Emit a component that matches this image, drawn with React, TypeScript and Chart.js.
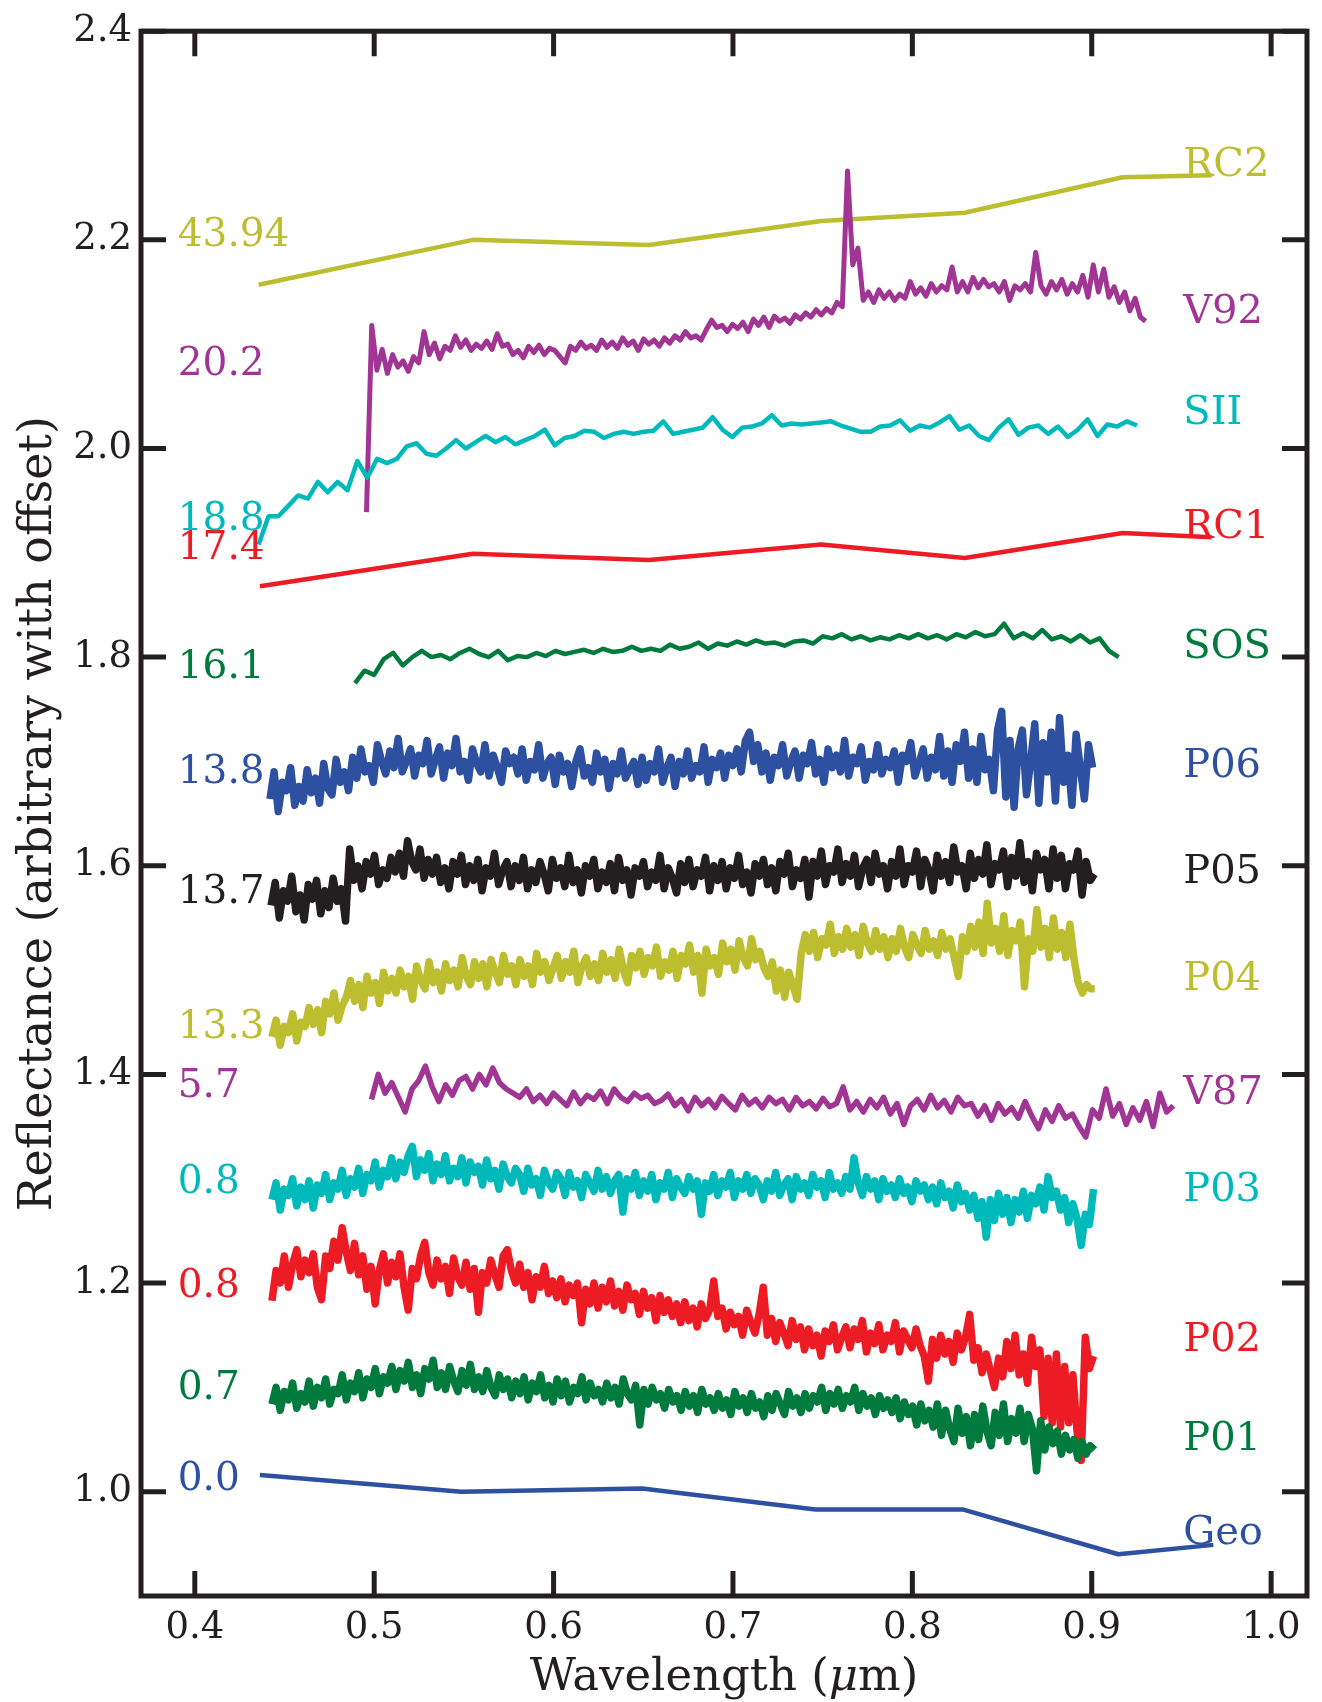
import React, { useEffect, useRef } from "react";
import { Chart, registerables } from "chart.js";

Chart.register(...registerables);

// ---------- axes ----------
const X_MIN = 0.37;
const X_MAX = 1.02;
const Y_MIN = 0.9;
const Y_MAX = 2.4;
const X_TICKS = [0.4, 0.5, 0.6, 0.7, 0.8, 0.9, 1.0];
const Y_TICKS = [1.0, 1.2, 1.4, 1.6, 1.8, 2.0, 2.2, 2.4];

// ---------- filter photometry (x = wavelength, y = reflectance) ----------
const RC2_X = [0.4356, 0.555, 0.6532, 0.7492, 0.8292, 0.9172, 0.9669];
const RC2_Y = [2.157, 2.2, 2.195, 2.218, 2.226, 2.26, 2.262];
const RC1_X = [0.4363, 0.555, 0.6532, 0.7492, 0.8292, 0.9172, 0.9669];
const RC1_Y = [1.868, 1.899, 1.893, 1.908, 1.895, 1.919, 1.915];
const GEO_X = [0.4363, 0.5485, 0.6494, 0.746, 0.828, 0.9148, 0.9678];
const GEO_Y = [1.016, 1.0, 1.003, 0.983, 0.983, 0.94, 0.949];

// ---------- spectra (wavelength range, evenly sampled reflectance) ----------
const V92_RANGE = [0.4957, 0.93];
const V92_Y = [
  1.939, 2.118, 2.075, 2.095, 2.072, 2.09, 2.078, 2.084, 2.074, 2.088,
  2.082, 2.112, 2.09, 2.101, 2.086, 2.098, 2.094, 2.108, 2.097, 2.104,
  2.094, 2.1, 2.096, 2.103, 2.095, 2.11, 2.098, 2.1, 2.09, 2.094,
  2.087, 2.098, 2.092, 2.099, 2.09, 2.096, 2.094, 2.088, 2.082, 2.098,
  2.094, 2.102, 2.096, 2.099, 2.094, 2.104, 2.097, 2.102, 2.096, 2.106,
  2.099, 2.103, 2.094, 2.105, 2.1, 2.104, 2.098, 2.106, 2.101, 2.108,
  2.104, 2.112, 2.106, 2.108, 2.104, 2.114, 2.123, 2.116, 2.118, 2.112,
  2.119, 2.115, 2.121, 2.112, 2.124, 2.118, 2.126, 2.116, 2.127, 2.122,
  2.125, 2.12, 2.128, 2.124, 2.13, 2.126, 2.133, 2.128, 2.134, 2.13,
  2.14, 2.136, 2.266, 2.176, 2.192, 2.142, 2.15, 2.14, 2.152, 2.144,
  2.15, 2.142, 2.148, 2.144, 2.16, 2.148, 2.154, 2.146, 2.158, 2.15,
  2.156, 2.152, 2.174, 2.15, 2.16, 2.15, 2.164, 2.154, 2.162, 2.155,
  2.158, 2.15, 2.16, 2.142, 2.156, 2.152, 2.158, 2.15, 2.188, 2.156,
  2.148, 2.16, 2.152, 2.162, 2.148, 2.158, 2.15, 2.166, 2.145, 2.176,
  2.15, 2.172, 2.145, 2.155, 2.14, 2.15, 2.132, 2.144, 2.126, 2.122,
];

const SII_RANGE = [0.4356, 0.9252];
const SII_Y = [
  1.908, 1.935, 1.935, 1.945, 1.955, 1.952, 1.968, 1.958, 1.968, 1.96,
  1.988, 1.972, 1.99, 1.986, 1.99, 2.002, 2.005, 1.995, 1.993, 2.0,
  2.008, 2.0, 2.006, 2.012, 2.006, 2.011, 2.004, 2.008, 2.012, 2.018,
  2.003, 2.01, 2.012, 2.017, 2.016, 2.01, 2.014, 2.016, 2.014, 2.016,
  2.017, 2.026, 2.014, 2.016, 2.018, 2.02, 2.03, 2.018, 2.011, 2.02,
  2.021, 2.024, 2.032, 2.022, 2.024, 2.023, 2.024, 2.025, 2.026, 2.022,
  2.019, 2.016, 2.016, 2.021, 2.022, 2.027, 2.017, 2.022, 2.02, 2.025,
  2.031, 2.018, 2.022, 2.012, 2.008, 2.02, 2.028, 2.013, 2.02, 2.022,
  2.014, 2.021, 2.011, 2.018, 2.028, 2.012, 2.023, 2.021, 2.026, 2.022,
];

const SOS_RANGE = [0.4893, 0.915];
const SOS_Y = [
  1.775, 1.787, 1.783, 1.798, 1.804, 1.792, 1.8, 1.806, 1.8, 1.802,
  1.798, 1.804, 1.808, 1.803, 1.8, 1.806, 1.797, 1.801, 1.8, 1.804,
  1.801, 1.806, 1.803, 1.805, 1.807, 1.804, 1.808, 1.805, 1.806, 1.81,
  1.806, 1.808, 1.806, 1.812, 1.808, 1.81, 1.814, 1.808, 1.813, 1.811,
  1.815, 1.812, 1.816, 1.813, 1.814, 1.811, 1.815, 1.816, 1.813, 1.82,
  1.818, 1.822, 1.817, 1.82, 1.816, 1.819, 1.817, 1.821, 1.818, 1.822,
  1.818, 1.821, 1.817, 1.822, 1.819, 1.824, 1.82, 1.822, 1.832, 1.818,
  1.823, 1.818, 1.826, 1.817, 1.82, 1.815, 1.821, 1.814, 1.818, 1.806,
  1.8,
];

const P06_RANGE = [0.4419, 0.9005];
const P06_Y = [
  1.664, 1.69, 1.652, 1.68, 1.672, 1.694, 1.658, 1.676, 1.662, 1.692,
  1.67, 1.684, 1.66, 1.698, 1.674, 1.668, 1.702, 1.68, 1.69, 1.672,
  1.704, 1.684, 1.712, 1.69, 1.696, 1.68, 1.716, 1.7, 1.688, 1.71,
  1.694, 1.722, 1.69, 1.7, 1.712, 1.686, 1.706, 1.698, 1.72, 1.688,
  1.702, 1.714, 1.684, 1.708, 1.696, 1.722, 1.69, 1.7, 1.682, 1.712,
  1.698, 1.69, 1.716, 1.686, 1.706, 1.694, 1.68, 1.71, 1.698, 1.704,
  1.688, 1.712, 1.682, 1.7, 1.692, 1.716, 1.684, 1.698, 1.704, 1.678,
  1.706, 1.69, 1.698, 1.676, 1.7, 1.712, 1.686, 1.694, 1.68, 1.708,
  1.69, 1.702, 1.674, 1.698, 1.688, 1.71, 1.684, 1.692, 1.7, 1.678,
  1.704, 1.682, 1.698, 1.69, 1.712, 1.68, 1.694, 1.704, 1.676, 1.7,
  1.688, 1.71, 1.684, 1.696, 1.69, 1.714, 1.68, 1.702, 1.694, 1.708,
  1.684, 1.706, 1.696, 1.712, 1.69, 1.72, 1.728, 1.7, 1.716, 1.69,
  1.708, 1.682, 1.704, 1.696, 1.716, 1.686, 1.7, 1.71, 1.684, 1.706,
  1.698, 1.718, 1.688, 1.702, 1.68, 1.712, 1.694, 1.706, 1.69, 1.72,
  1.686, 1.704, 1.698, 1.714, 1.682, 1.7, 1.692, 1.716, 1.688, 1.702,
  1.694, 1.71, 1.68, 1.706, 1.7, 1.718, 1.686, 1.698, 1.712, 1.684,
  1.704, 1.692, 1.724, 1.686, 1.71, 1.68, 1.716, 1.7, 1.728, 1.684,
  1.712, 1.68, 1.724, 1.692, 1.702, 1.672, 1.73, 1.748, 1.666, 1.72,
  1.656, 1.712, 1.73, 1.668, 1.7, 1.736, 1.66, 1.718, 1.69, 1.728,
  1.662, 1.742, 1.68, 1.706, 1.658, 1.726, 1.694, 1.664, 1.716, 1.694,
];

const P05_RANGE = [0.4425, 0.9015];
const P05_Y = [
  1.562, 1.584, 1.55, 1.576, 1.566, 1.59, 1.556, 1.572, 1.548, 1.582,
  1.568, 1.586, 1.554, 1.576, 1.56, 1.588, 1.566, 1.578, 1.547, 1.616,
  1.586, 1.6, 1.578, 1.604, 1.592, 1.61, 1.582, 1.596, 1.588, 1.608,
  1.594, 1.612, 1.59, 1.624, 1.604, 1.596, 1.616, 1.588, 1.606, 1.592,
  1.608, 1.584, 1.598, 1.578, 1.604, 1.592, 1.61, 1.582, 1.6, 1.586,
  1.606, 1.576, 1.598, 1.59, 1.612, 1.582, 1.596, 1.604, 1.58, 1.6,
  1.586, 1.608, 1.578, 1.596, 1.584, 1.604, 1.592, 1.576, 1.606, 1.588,
  1.598, 1.58, 1.61, 1.584, 1.596, 1.574, 1.6, 1.59, 1.606, 1.578,
  1.594, 1.584, 1.602, 1.576, 1.608, 1.586, 1.596, 1.572, 1.598, 1.59,
  1.604, 1.58, 1.594, 1.586, 1.61, 1.578, 1.598, 1.588, 1.574, 1.602,
  1.584, 1.606, 1.58, 1.596, 1.59, 1.608, 1.576, 1.6, 1.586, 1.604,
  1.578, 1.598, 1.588, 1.61, 1.582, 1.594, 1.574, 1.602, 1.59, 1.606,
  1.582, 1.598, 1.576, 1.604, 1.592, 1.612, 1.58, 1.596, 1.588, 1.606,
  1.57, 1.604, 1.59, 1.614, 1.582, 1.6, 1.594, 1.616, 1.584, 1.602,
  1.59, 1.61, 1.58, 1.598, 1.606, 1.584, 1.612, 1.592, 1.6, 1.578,
  1.604, 1.59, 1.616, 1.582, 1.6, 1.594, 1.614, 1.58, 1.606, 1.596,
  1.576, 1.61, 1.59, 1.604, 1.584, 1.618, 1.594, 1.6, 1.578, 1.612,
  1.588, 1.606, 1.592, 1.62, 1.582, 1.602, 1.596, 1.614, 1.58, 1.608,
  1.59, 1.622, 1.584, 1.604, 1.576, 1.612, 1.596, 1.606, 1.578, 1.616,
  1.588, 1.61, 1.578, 1.602, 1.596, 1.614, 1.572, 1.604, 1.586, 1.592,
];

const P04_RANGE = [0.443, 0.9017];
const P04_Y = [
  1.436, 1.452, 1.428, 1.446, 1.44, 1.458, 1.432, 1.45, 1.446, 1.464,
  1.448, 1.462, 1.44, 1.47, 1.458, 1.478, 1.452, 1.466, 1.474, 1.49,
  1.47, 1.486, 1.464, 1.494, 1.478, 1.488, 1.468, 1.498, 1.48, 1.492,
  1.478, 1.5, 1.484, 1.494, 1.472, 1.504, 1.49, 1.482, 1.508, 1.488,
  1.498, 1.48, 1.506, 1.49, 1.5, 1.484, 1.512, 1.494, 1.486, 1.508,
  1.492, 1.506, 1.484, 1.51, 1.498, 1.488, 1.514, 1.496, 1.504, 1.486,
  1.51, 1.494, 1.504, 1.486, 1.516, 1.498, 1.508, 1.49, 1.502, 1.514,
  1.492, 1.508, 1.498, 1.518, 1.488, 1.504, 1.512, 1.494, 1.506, 1.49,
  1.516, 1.498, 1.51, 1.492, 1.52, 1.5, 1.488, 1.514, 1.502, 1.518,
  1.496, 1.512, 1.504, 1.522, 1.494, 1.508, 1.5, 1.518, 1.492, 1.514,
  1.506, 1.524, 1.498, 1.514, 1.478, 1.52, 1.504, 1.512, 1.496, 1.526,
  1.508, 1.52, 1.5, 1.528, 1.512, 1.504, 1.53, 1.51, 1.518, 1.502,
  1.494, 1.508, 1.48, 1.5, 1.474, 1.498, 1.486, 1.472, 1.516, 1.534,
  1.518, 1.536, 1.512, 1.53, 1.524, 1.544, 1.516, 1.532, 1.52, 1.54,
  1.522, 1.534, 1.514, 1.542, 1.526, 1.518, 1.538, 1.52, 1.532, 1.512,
  1.53, 1.518, 1.54, 1.522, 1.512, 1.534, 1.524, 1.516, 1.538, 1.52,
  1.528, 1.514, 1.536, 1.52, 1.53, 1.512, 1.494, 1.532, 1.518, 1.542,
  1.522, 1.546, 1.516, 1.564, 1.526, 1.54, 1.518, 1.552, 1.514, 1.538,
  1.528, 1.546, 1.484, 1.53, 1.518, 1.558, 1.522, 1.54, 1.512, 1.55,
  1.52, 1.536, 1.512, 1.544, 1.51, 1.488, 1.478, 1.486, 1.482, 1.482,
];

const V87_RANGE = [0.4985, 0.9455];
const V87_Y = [
  1.376, 1.4, 1.382, 1.392, 1.378, 1.364, 1.386, 1.394, 1.408, 1.388,
  1.374, 1.39, 1.38, 1.394, 1.398, 1.386, 1.4, 1.39, 1.406, 1.392,
  1.386, 1.382, 1.378, 1.386, 1.374, 1.38, 1.372, 1.382, 1.376, 1.37,
  1.383, 1.372, 1.38, 1.376, 1.384, 1.372, 1.386, 1.378, 1.374, 1.382,
  1.377, 1.38, 1.372, 1.375, 1.381, 1.37, 1.376, 1.365, 1.378, 1.37,
  1.376, 1.368, 1.379, 1.372, 1.366, 1.38, 1.371, 1.376, 1.368, 1.378,
  1.372, 1.376, 1.366, 1.378, 1.37, 1.374, 1.367, 1.377, 1.369, 1.372,
  1.388, 1.366, 1.374, 1.364, 1.376, 1.368, 1.378, 1.362, 1.372, 1.352,
  1.37, 1.376, 1.366, 1.38, 1.368, 1.375, 1.364, 1.378, 1.37, 1.372,
  1.36, 1.37, 1.356, 1.372, 1.362, 1.368, 1.358, 1.374, 1.36, 1.348,
  1.366, 1.355, 1.37, 1.358, 1.362, 1.35, 1.34, 1.366, 1.358, 1.386,
  1.36, 1.372, 1.352, 1.368, 1.356, 1.374, 1.35, 1.382, 1.364, 1.37,
];

const P03_RANGE = [0.443, 0.901];
const P03_Y = [
  1.28, 1.296, 1.27, 1.29, 1.284, 1.3, 1.274, 1.292, 1.28, 1.298,
  1.272, 1.294, 1.286, 1.304, 1.28, 1.296, 1.29, 1.308, 1.284, 1.3,
  1.292, 1.31, 1.286, 1.304, 1.298, 1.316, 1.292, 1.308, 1.302, 1.32,
  1.3, 1.316, 1.306, 1.322, 1.331, 1.302, 1.318, 1.308, 1.324, 1.298,
  1.314, 1.304, 1.322, 1.298, 1.31, 1.302, 1.32, 1.296, 1.316, 1.306,
  1.312, 1.294, 1.318, 1.3, 1.308, 1.29, 1.314, 1.302, 1.296, 1.31,
  1.304, 1.288, 1.31, 1.294, 1.3, 1.284, 1.308, 1.296, 1.29, 1.306,
  1.3, 1.284, 1.306, 1.292, 1.298, 1.282, 1.304, 1.296, 1.288, 1.308,
  1.29, 1.302, 1.286, 1.298, 1.304, 1.268, 1.3, 1.29, 1.306, 1.284,
  1.298, 1.288, 1.304, 1.28, 1.296, 1.29, 1.306, 1.282, 1.3, 1.292,
  1.286, 1.302, 1.29, 1.298, 1.266, 1.296, 1.288, 1.304, 1.284, 1.298,
  1.292, 1.306, 1.282, 1.298, 1.29, 1.304, 1.286, 1.3, 1.294, 1.28,
  1.298, 1.288, 1.306, 1.284, 1.294, 1.3, 1.28, 1.302, 1.29, 1.296,
  1.284, 1.304, 1.292, 1.298, 1.282, 1.306, 1.29, 1.296, 1.286, 1.302,
  1.29, 1.32, 1.296, 1.284, 1.302, 1.29, 1.298, 1.28, 1.3, 1.288,
  1.294, 1.282, 1.3, 1.286, 1.292, 1.278, 1.298, 1.288, 1.294, 1.28,
  1.292, 1.276, 1.296, 1.282, 1.288, 1.272, 1.294, 1.278, 1.286, 1.27,
  1.284, 1.262, 1.278, 1.244, 1.28, 1.26, 1.286, 1.266, 1.282, 1.258,
  1.28, 1.268, 1.288, 1.262, 1.284, 1.276, 1.292, 1.27, 1.302, 1.282,
  1.288, 1.27, 1.282, 1.258, 1.276, 1.262, 1.236, 1.266, 1.256, 1.29,
];

const P02_RANGE = [0.443, 0.901];
const P02_Y = [
  1.183, 1.212, 1.2, 1.226, 1.196, 1.218, 1.232, 1.206, 1.222, 1.21,
  1.228, 1.196, 1.184, 1.226, 1.214, 1.24, 1.222, 1.253, 1.23, 1.212,
  1.238, 1.208, 1.226, 1.194, 1.216, 1.18, 1.212, 1.228, 1.2, 1.22,
  1.206, 1.228, 1.196, 1.174, 1.214, 1.204, 1.226, 1.239, 1.21, 1.198,
  1.222, 1.204, 1.216, 1.19, 1.224, 1.206, 1.198, 1.22, 1.194, 1.214,
  1.172, 1.21, 1.2, 1.222, 1.208, 1.196, 1.226, 1.232, 1.212, 1.2,
  1.218, 1.196, 1.21, 1.184, 1.206, 1.196, 1.216, 1.19, 1.202, 1.186,
  1.204, 1.182, 1.198, 1.188, 1.2, 1.162, 1.194, 1.18, 1.2, 1.176,
  1.196, 1.182, 1.202, 1.178, 1.192, 1.174, 1.198, 1.184, 1.19, 1.17,
  1.192, 1.176, 1.186, 1.164, 1.188, 1.172, 1.184, 1.168, 1.18, 1.162,
  1.182, 1.164, 1.176, 1.158, 1.18, 1.166, 1.174, 1.202, 1.168, 1.176,
  1.156, 1.172, 1.16, 1.168, 1.15, 1.174, 1.162, 1.152, 1.17, 1.196,
  1.15, 1.166, 1.144, 1.162, 1.152, 1.14, 1.164, 1.146, 1.158, 1.136,
  1.156, 1.14, 1.15, 1.13, 1.154, 1.144, 1.16, 1.136, 1.148, 1.158,
  1.138, 1.156, 1.146, 1.164, 1.134, 1.152, 1.142, 1.16, 1.136, 1.15,
  1.144, 1.162, 1.134, 1.154, 1.146, 1.138, 1.156, 1.14, 1.13, 1.106,
  1.146, 1.128, 1.15, 1.132, 1.144, 1.124, 1.152, 1.136, 1.148, 1.17,
  1.126, 1.138, 1.114, 1.132, 1.116, 1.1, 1.128, 1.11, 1.144, 1.118,
  1.15, 1.112, 1.132, 1.104, 1.148, 1.12, 1.136, 1.072, 1.128, 1.066,
  1.132, 1.062, 1.12, 1.066, 1.112, 1.058, 1.03, 1.148, 1.118, 1.13,
];

const P01_RANGE = [0.443, 0.9015];
const P01_Y = [
  1.084, 1.1, 1.078, 1.096, 1.088, 1.104, 1.08, 1.094, 1.086, 1.106,
  1.082, 1.1, 1.09, 1.108, 1.084, 1.098, 1.094, 1.112, 1.088, 1.104,
  1.096, 1.114, 1.09, 1.108, 1.1, 1.118, 1.094, 1.11, 1.104, 1.12,
  1.098, 1.116, 1.106, 1.124, 1.1, 1.112, 1.094, 1.118, 1.108, 1.126,
  1.1, 1.114, 1.098, 1.12, 1.106, 1.096, 1.116, 1.102, 1.122, 1.098,
  1.11, 1.096, 1.116, 1.1, 1.092, 1.112, 1.098, 1.108, 1.09, 1.106,
  1.094, 1.11, 1.088, 1.104, 1.096, 1.112, 1.09, 1.102, 1.086, 1.108,
  1.092, 1.106, 1.086, 1.1, 1.094, 1.11, 1.088, 1.104, 1.092, 1.098,
  1.086, 1.104, 1.09, 1.1, 1.084, 1.108, 1.094, 1.088, 1.102, 1.064,
  1.098, 1.084, 1.1, 1.088, 1.094, 1.08, 1.098, 1.086, 1.092, 1.078,
  1.096, 1.082, 1.092, 1.076, 1.098, 1.084, 1.09, 1.078, 1.094, 1.08,
  1.088, 1.074, 1.096, 1.082, 1.09, 1.076, 1.094, 1.08, 1.086, 1.072,
  1.092, 1.078, 1.094, 1.084, 1.074, 1.096, 1.082, 1.09, 1.076, 1.094,
  1.08, 1.092, 1.086, 1.1, 1.078, 1.094, 1.084, 1.098, 1.08, 1.092,
  1.086, 1.1, 1.078, 1.094, 1.082, 1.09, 1.074, 1.092, 1.08, 1.088,
  1.076, 1.09, 1.07, 1.086, 1.074, 1.082, 1.064, 1.084, 1.068, 1.078,
  1.062, 1.084, 1.054, 1.078, 1.06, 1.048, 1.08, 1.056, 1.072, 1.044,
  1.074, 1.05, 1.082, 1.058, 1.044, 1.076, 1.054, 1.084, 1.048, 1.07,
  1.056, 1.08, 1.048, 1.074, 1.06, 1.02, 1.068, 1.04, 1.062, 1.046,
  1.058, 1.036, 1.054, 1.04, 1.05, 1.032, 1.048, 1.036, 1.044, 1.04,
];

// ---------- labels ----------
const SERIES_NAMES = ["Geo", "P01", "P02", "P03", "V87", "P04", "P05", "P06", "SOS", "RC1", "SII", "V92", "RC2"];
const LEFT_LABELS = ["0.0", "0.7", "0.8", "0.8", "5.7", "13.3", "13.7", "13.8", "16.1", "17.4", "18.8", "20.2", "43.94"];
const LEFT_LABEL_Y = [1.002, 1.089, 1.187, 1.286, 1.378, 1.435, 1.564, 1.679, 1.78, 1.894, 1.922, 2.07, 2.194];
const RIGHT_LABEL_Y = [0.9497, 1.0396, 1.135, 1.279, 1.3713, 1.4813, 1.5833, 1.6854, 1.799, 1.914, 2.0234, 2.12, 2.261];
const LEFT_LABEL_X = 0.3905;
const RIGHT_LABEL_X = 0.951;

const COLORS = {
  olive: "#bdbe2f",
  purple: "#a03594",
  cyan: "#00b9bb",
  red: "#ed1c24",
  green: "#007b3d",
  blue: "#2d50a1",
  black: "#231f20",
};

const INK = "#231f20";
const FONT = '"DejaVu Serif", serif';

type Pt = { x: number; y: number };

const pairs = (xs: number[], ys: number[]): Pt[] => ys.map((y, i) => ({ x: xs[i], y }));
const spectrum = (range: number[], ys: number[]): Pt[] =>
  ys.map((y, i) => ({ x: range[0] + (i * (range[1] - range[0])) / (ys.length - 1), y }));

const HEAVY = 7.5;
const SERIES = [
  { name: "Geo", color: COLORS.blue, width: 4.5, data: pairs(GEO_X, GEO_Y) },
  { name: "P01", color: COLORS.green, width: HEAVY, data: spectrum(P01_RANGE, P01_Y) },
  { name: "P02", color: COLORS.red, width: HEAVY, data: spectrum(P02_RANGE, P02_Y) },
  { name: "P03", color: COLORS.cyan, width: HEAVY, data: spectrum(P03_RANGE, P03_Y) },
  { name: "V87", color: COLORS.purple, width: 5.5, data: spectrum(V87_RANGE, V87_Y) },
  { name: "P04", color: COLORS.olive, width: HEAVY, data: spectrum(P04_RANGE, P04_Y) },
  { name: "P05", color: COLORS.black, width: HEAVY, data: spectrum(P05_RANGE, P05_Y) },
  { name: "P06", color: COLORS.blue, width: HEAVY, data: spectrum(P06_RANGE, P06_Y) },
  { name: "SOS", color: COLORS.green, width: 4.5, data: spectrum(SOS_RANGE, SOS_Y) },
  { name: "RC1", color: COLORS.red, width: 4.5, data: pairs(RC1_X, RC1_Y) },
  { name: "SII", color: COLORS.cyan, width: 4.5, data: spectrum(SII_RANGE, SII_Y) },
  { name: "V92", color: COLORS.purple, width: 5, data: spectrum(V92_RANGE, V92_Y) },
  { name: "RC2", color: COLORS.olive, width: 4.5, data: pairs(RC2_X, RC2_Y) },
];

const decorPlugin = {
  id: "decor",
  afterDatasetsDraw(chart: any) {
    const { ctx, chartArea: a, scales } = chart;
    const xs = scales.x;
    const ys = scales.y;
    ctx.save();

    // series annotations
    ctx.textBaseline = "alphabetic";
    ctx.textAlign = "left";
    SERIES_NAMES.forEach((name, i) => {
      const s = SERIES.find((d) => d.name === name)!;
      ctx.fillStyle = s.color;
      ctx.font = `39px ${FONT}`;
      ctx.fillText(LEFT_LABELS[i], xs.getPixelForValue(LEFT_LABEL_X), ys.getPixelForValue(LEFT_LABEL_Y[i]));
      ctx.font = `40px ${FONT}`;
      ctx.fillText(name, xs.getPixelForValue(RIGHT_LABEL_X), ys.getPixelForValue(RIGHT_LABEL_Y[i]));
    });

    // frame
    ctx.strokeStyle = INK;
    ctx.lineWidth = 5;
    ctx.lineCap = "butt";
    ctx.strokeRect(a.left, a.top, a.right - a.left, a.bottom - a.top);

    // inward ticks on all four sides
    const TL = 25;
    ctx.lineWidth = 5;
    ctx.beginPath();
    X_TICKS.forEach((v) => {
      const px = xs.getPixelForValue(v);
      ctx.moveTo(px, a.bottom);
      ctx.lineTo(px, a.bottom - TL);
      ctx.moveTo(px, a.top);
      ctx.lineTo(px, a.top + TL);
    });
    Y_TICKS.forEach((v) => {
      const py = ys.getPixelForValue(v);
      ctx.moveTo(a.left, py);
      ctx.lineTo(a.left + TL, py);
      ctx.moveTo(a.right, py);
      ctx.lineTo(a.right - TL, py);
    });
    ctx.stroke();

    // axis titles
    ctx.fillStyle = INK;
    const titleSize = 45;
    const parts = [
      { t: "Wavelength (", f: `${titleSize}px ${FONT}` },
      { t: "\u03bc", f: `italic ${titleSize}px ${FONT}` },
      { t: "m)", f: `${titleSize}px ${FONT}` },
    ];
    let total = 0;
    parts.forEach((p) => {
      ctx.font = p.f;
      total += ctx.measureText(p.t).width;
    });
    let cx = (a.left + a.right) / 2 - total / 2;
    const by = a.bottom + 94;
    ctx.textAlign = "left";
    parts.forEach((p) => {
      ctx.font = p.f;
      ctx.fillText(p.t, cx, by);
      cx += ctx.measureText(p.t).width;
    });

    ctx.save();
    ctx.translate(51, (a.top + a.bottom) / 2);
    ctx.rotate(-Math.PI / 2);
    ctx.textAlign = "center";
    ctx.font = `46px ${FONT}`;
    ctx.fillText("Reflectance (arbitrary with offset)", 0, 0);
    ctx.restore();

    ctx.restore();
  },
};

export default function App() {
  const ref = useRef<HTMLCanvasElement | null>(null);

  useEffect(() => {
    document.body.style.margin = "0";
    const canvas = ref.current;
    if (!canvas) return;
    const chart = new Chart(canvas, {
      type: "scatter",
      data: {
        datasets: SERIES.map((s) => ({
          label: s.name,
          data: s.data,
          showLine: true,
          borderColor: s.color,
          backgroundColor: s.color,
          borderWidth: s.width,
          pointRadius: 0,
          pointHoverRadius: 0,
          tension: 0,
          borderJoinStyle: "round" as const,
        })),
      },
      options: {
        responsive: false,
        maintainAspectRatio: false,
        animation: false,
        devicePixelRatio: 1,
        events: [],
        layout: { padding: { top: 28, right: 15, left: 0, bottom: 0 } },
        plugins: { legend: { display: false }, tooltip: { enabled: false }, title: { display: false } },
        scales: {
          x: {
            type: "linear",
            min: X_MIN,
            max: X_MAX,
            afterBuildTicks: (axis: any) => {
              axis.ticks = X_TICKS.map((v) => ({ value: v }));
            },
            afterFit: (axis: any) => {
              axis.height = 106;
            },
            grid: { display: false, drawTicks: false },
            border: { display: false },
            ticks: {
              padding: 10,
              color: INK,
              font: { family: "DejaVu Serif", size: 37 },
              maxRotation: 0,
              callback: (v: any) => Number(v).toFixed(1),
            },
          },
          y: {
            type: "linear",
            min: Y_MIN,
            max: Y_MAX,
            afterBuildTicks: (axis: any) => {
              axis.ticks = Y_TICKS.map((v) => ({ value: v }));
            },
            afterFit: (axis: any) => {
              axis.width = 141;
            },
            grid: { display: false, drawTicks: false },
            border: { display: false },
            ticks: {
              padding: 9,
              color: INK,
              font: { family: "DejaVu Serif", size: 37 },
              callback: (v: any) => Number(v).toFixed(1),
            },
          },
        },
      },
      plugins: [decorPlugin],
    });
    return () => chart.destroy();
  }, []);

  return (
    <div style={{ width: 1322, height: 1702, background: "#ffffff" }}>
      <canvas ref={ref} width={1322} height={1702} style={{ display: "block" }} />
    </div>
  );
}
